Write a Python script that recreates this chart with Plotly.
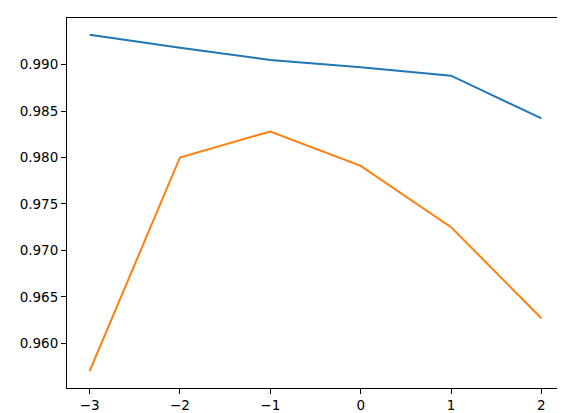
import plotly.graph_objects as go

x_vals = [-3, -2, -1, 0, 1, 2]
blue_vals = [0.9932, 0.9918, 0.9905, 0.9897, 0.9888, 0.9842]
orange_vals = [0.9570, 0.9800, 0.9828, 0.9791, 0.9725, 0.9627]

x_ticks = [-3, -2, -1, 0, 1, 2]
x_ticktext = ["\u22123", "\u22122", "\u22121", "0", "1", "2"]
y_ticks = [0.960, 0.965, 0.970, 0.975, 0.980, 0.985, 0.990]

fig = go.Figure()
fig.add_trace(go.Scatter(x=x_vals, y=blue_vals, mode="lines",
                         line=dict(color="#1f77b4", width=2)))
fig.add_trace(go.Scatter(x=x_vals, y=orange_vals, mode="lines",
                         line=dict(color="#ff7f0e", width=2)))

axis_style = dict(
    showgrid=False, zeroline=False, showline=True, mirror=True,
    linecolor="black", linewidth=1, ticks="outside", ticklen=5,
    tickcolor="black", tickwidth=1, automargin=False,
    tickfont=dict(family="DejaVu Sans", size=13.5, color="black"),
)

fig.update_layout(
    width=565, height=413,
    margin=dict(l=59, r=9, t=10, b=33, pad=0),
    paper_bgcolor="white", plot_bgcolor="white",
    showlegend=False,
    xaxis=dict(range=[-3.25, 2.25], tickvals=x_ticks, ticktext=x_ticktext,
               **axis_style),
    yaxis=dict(range=[0.95519, 0.99501], tickvals=y_ticks, tickformat=".3f",
               **axis_style),
)

fig.write_html("out.html")
